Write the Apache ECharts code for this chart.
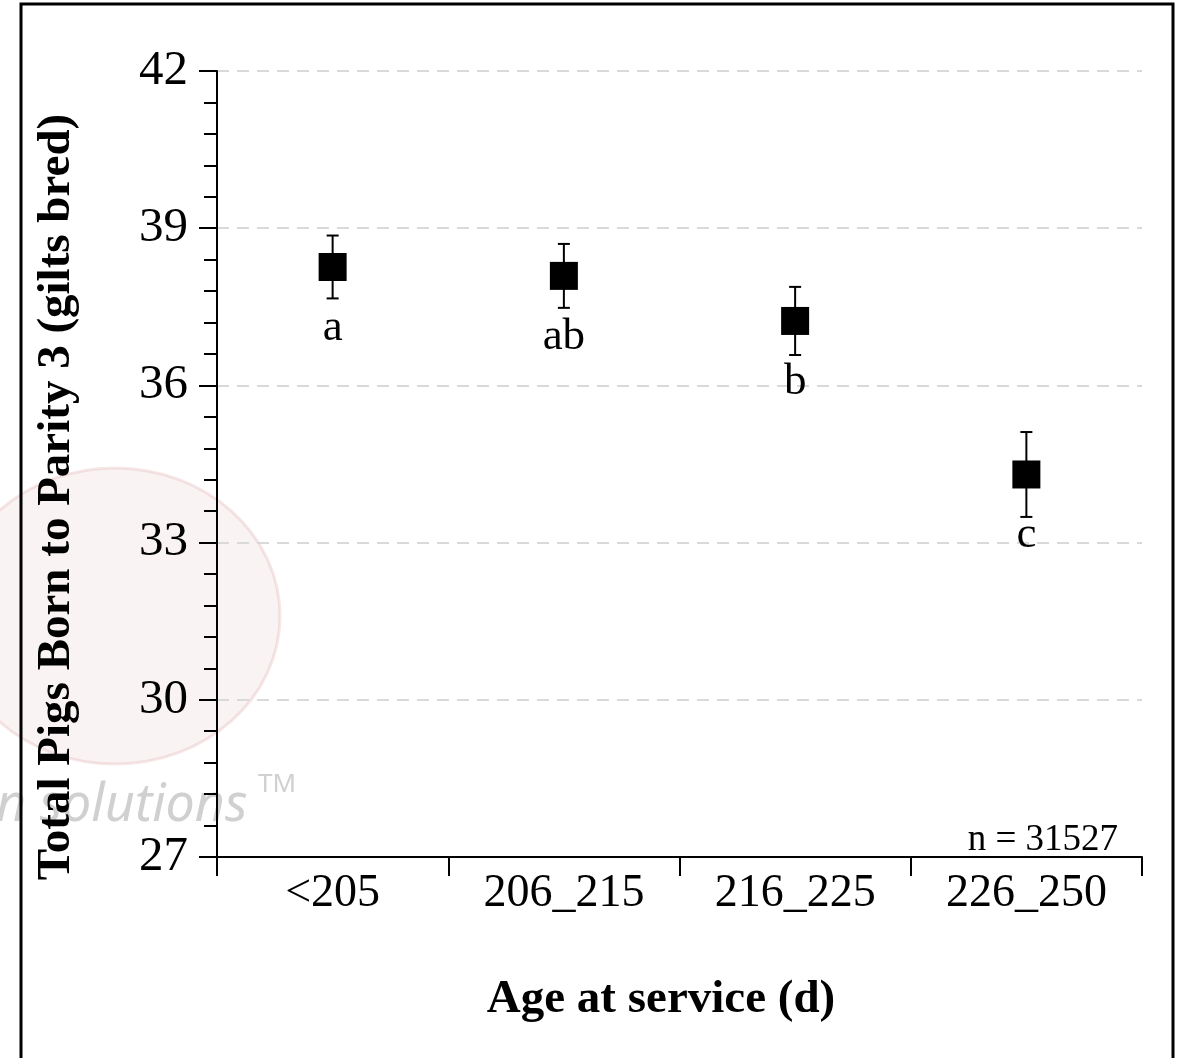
<!DOCTYPE html>
<html>
<head>
<meta charset="utf-8">
<script src="https://cdn.jsdelivr.net/npm/echarts@6/dist/echarts.min.js"></script>
<style>
html,body{margin:0;padding:0;background:#fff;}
#chart{width:1178px;height:1058px;}
</style>
</head>
<body>
<div id="chart"></div>
<script>
var categories = ['<205', '206_215', '216_225', '226_250'];
var means = [38.26, 38.09, 37.23, 34.30];
var errors = [0.60, 0.61, 0.65, 0.81];
var letters = ['a', 'ab', 'b', 'c'];
var yTicks = { min: 27, max: 42, interval: 3 };
var nLabel = 'n = 31527';
var xTitle = 'Age at service (d)';
var yTitle = 'Total Pigs Born to Parity 3 (gilts bred)';

var SERIF = '"Liberation Serif","Times New Roman",serif';
var chart = echarts.init(document.getElementById('chart'), null, {renderer: 'canvas'});

var pointData = categories.map(function (c, i) { return [i, means[i], errors[i], letters[i]]; });

var option = {
  backgroundColor: '#fff',
  animation: false,
  grid: { left: 217, right: 36, top: 71, bottom: 201, containLabel: false },
  xAxis: {
    type: 'category',
    data: categories,
    boundaryGap: true,
    axisLine: { show: true, lineStyle: { color: '#000', width: 2 } },
    axisTick: { show: true, inside: false, length: 19, alignWithLabel: false, lineStyle: { color: '#000', width: 2 } },
    axisLabel: { color: '#000', fontFamily: SERIF, fontSize: 46, margin: 14 },
    splitLine: { show: false }
  },
  yAxis: {
    type: 'value',
    min: yTicks.min, max: yTicks.max, interval: yTicks.interval,
    axisLine: { show: true, lineStyle: { color: '#000', width: 2 } },
    axisTick: { show: true, inside: false, length: 18, lineStyle: { color: '#000', width: 2 } },
    minorTick: { show: true, splitNumber: 5, length: 13, lineStyle: { color: '#000', width: 2 } },
    axisLabel: { color: '#000', fontFamily: SERIF, fontSize: 49, margin: 29 },
    splitLine: { show: true, lineStyle: { color: '#d9d9d9', width: 2, type: [12, 8] } },
    minorSplitLine: { show: false }
  },
  graphic: [
    { type: 'rect', z: 100, shape: { x: 21, y: 4, width: 1152, height: 1080 },
      style: { fill: null, stroke: '#000', lineWidth: 3 } },
    // faint watermark
    { type: 'ellipse', z: -1, silent: true, shape: { cx: 115, cy: 616, rx: 165, ry: 148 },
      style: { fill: 'rgba(190,90,90,0.07)', stroke: 'rgba(190,90,90,0.14)', lineWidth: 3 } },
    { type: 'text', z: -1, silent: true, x: -4, y: 806,
      style: { text: 'n solutions', x: 0, y: 0, textVerticalAlign: 'middle', font: 'italic 52px "Noto Sans", sans-serif', fill: '#d0d0d0' } },
    { type: 'text', z: -1, silent: true, x: 258, y: 785,
      style: { text: 'TM', x: 0, y: 0, textVerticalAlign: 'middle', font: '26px "Noto Sans", sans-serif', fill: '#d0d0d0' } },
    { type: 'text', z: 10, x: 661, y: 1000,
      style: { text: xTitle, x: 0, y: 0, textAlign: 'center', textVerticalAlign: 'middle',
        font: 'bold 47px ' + SERIF, fill: '#000' } },
    { type: 'text', z: 10, rotation: Math.PI / 2, x: 57, y: 497,
      style: { text: yTitle, x: 0, y: 0, textAlign: 'center', textVerticalAlign: 'middle',
        font: 'bold 47px ' + SERIF, fill: '#000' } },
    { type: 'text', z: 10, x: 1118, y: 840,
      style: { text: nLabel, x: 0, y: 0, textAlign: 'right', textVerticalAlign: 'middle',
        font: '37px ' + SERIF, fill: '#000' } }
  ],
  series: [{
    type: 'custom',
    data: pointData,
    encode: { x: 0, y: 1 },
    renderItem: function (params, api) {
      var i = api.value(0), m = api.value(1), e = api.value(2);
      var c = api.coord([i, m]);
      var hi = api.coord([i, m + e]);
      var lo = api.coord([i, m - e]);
      var cap = 6, half = 14;
      var st = { stroke: '#000', lineWidth: 2 };
      return {
        type: 'group',
        children: [
          { type: 'line', shape: { x1: c[0], y1: hi[1], x2: c[0], y2: lo[1] }, style: st },
          { type: 'line', shape: { x1: c[0] - cap, y1: hi[1], x2: c[0] + cap, y2: hi[1] }, style: st },
          { type: 'line', shape: { x1: c[0] - cap, y1: lo[1], x2: c[0] + cap, y2: lo[1] }, style: st },
          { type: 'rect', shape: { x: c[0] - half, y: c[1] - half, width: 2 * half, height: 2 * half }, style: { fill: '#000' } },
          { type: 'text', x: c[0], y: c[1] + 61,
            style: { text: letters[params.dataIndex], x: 0, y: 0, textAlign: 'center', textVerticalAlign: 'middle',
              font: '45px ' + SERIF, fill: '#000' } }
        ]
      };
    }
  }]
};
chart.setOption(option);
</script>
</body>
</html>
